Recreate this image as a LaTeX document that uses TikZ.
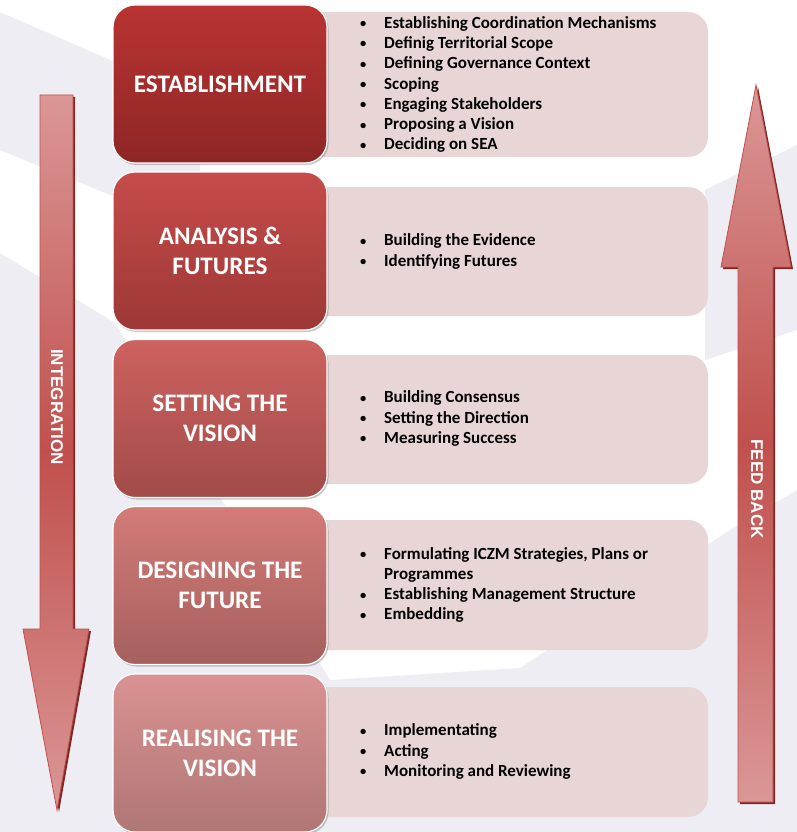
\documentclass[tikz,border=0pt]{standalone}
\usepackage{fontspec}
\setmainfont{Carlito}
\newfontfamily\arrowfont{Liberation Sans}
\usetikzlibrary{shadows}
\definecolor{bggray}{HTML}{EDEDF3}
\definecolor{pinkbox}{HTML}{E8D6D6}
\definecolor{arrowlight}{HTML}{DA9796}
\definecolor{arrowmid}{HTML}{C0504D}
\definecolor{arrowedge}{HTML}{C24F4C}
\definecolor{arrowshadow}{HTML}{7E2826}
\definecolor{pAt}{HTML}{B83432}
\definecolor{pAb}{HTML}{8E2626}
\definecolor{pBt}{HTML}{C64C4A}
\definecolor{pBb}{HTML}{9C3836}
\definecolor{pCt}{HTML}{CD625F}
\definecolor{pCb}{HTML}{A24B49}
\definecolor{pDt}{HTML}{D37B77}
\definecolor{pDb}{HTML}{A5605E}
\definecolor{pEt}{HTML}{D99291}
\definecolor{pEb}{HTML}{B07676}
\tikzset{
  phase/.style={rounded corners=22pt, minimum width=214pt, minimum height=158pt,
    draw=white, line width=1.2pt, align=center, text=white, inner sep=0pt,
    font=\fontsize{25.2}{30}\selectfont\bfseries,
    drop shadow={shadow xshift=1.5pt, shadow yshift=-2pt, opacity=0.3, fill=black!70}},
  content/.style={rounded corners=20pt, fill=pinkbox, minimum width=408pt, inner sep=0pt},
  listtext/.style={anchor=west, inner sep=0pt, align=left, text=black,
    font=\fontsize{17}{20.3}\selectfont\bfseries},
  bigarrow/.style={shading=axis, top color=arrowlight, bottom color=arrowlight,
    middle color=arrowmid, draw=arrowedge, line width=0.8pt},
  arrowshadowstyle/.style={fill=arrowshadow},
  arrowlabel/.style={text=white, font=\arrowfont\fontsize{17}{20}\selectfont\bfseries, inner sep=0pt, rotate=-90}
}
\newcommand{\itm}[1]{\makebox[26pt][l]{\hspace{2pt}\raisebox{0.6pt}{\fontsize{12.5}{12.5}\selectfont\textbullet}}#1}
\newcommand{\cnt}[1]{\makebox[26pt][l]{}#1}
\begin{document}
\begin{tikzpicture}[x=1pt,y=-1pt]
\useasboundingbox (0,0) rectangle (797,832);
\clip (0,0) rectangle (797,832);
% background
\fill[white] (0,0) rectangle (797,832);
\fill[bggray] (0,12) -- (115,62) -- (200,100) -- (200,235) -- (115,197) -- (0,150) -- cycle;
\fill[bggray] (705,190) -- (797,145) -- (797,330) -- (705,360) -- cycle;
\fill[bggray] (0,253) -- (115,323) -- (330,680) -- (520,668) -- (730,530) -- (797,490)
  -- (797,832) -- (0,832) -- cycle;

% content boxes
\node[content, minimum height=145pt] (c1) at (504,84.5) {};
\node[content, minimum height=129pt] (c2) at (504,251.5) {};
\node[content, minimum height=129pt] (c3) at (504,419.5) {};
\node[content, minimum height=130pt] (c4) at (504,585) {};
\node[content, minimum height=130pt] (c5) at (504,752) {};

% phase boxes
\node[phase, top color=pAt, bottom color=pAb] (p1) at (220,84) {ESTABLISHMENT};
\node[phase, top color=pBt, bottom color=pBb] (p2) at (220,251) {ANALYSIS \&\\FUTURES};
\node[phase, top color=pCt, bottom color=pCb] (p3) at (220,418.5) {SETTING THE\\VISION};
\node[phase, top color=pDt, bottom color=pDb] (p4) at (220,585.5) {DESIGNING THE\\FUTURE};
\node[phase, top color=pEt, bottom color=pEb] (p5) at (220,753) {REALISING THE\\VISION};

% lists
\node[listtext] (l1) at (358,84.5) {\itm{Establishing Coordination Mechanisms}\\\itm{Definig Territorial Scope}\\\itm{Defining Governance Context}\\\itm{Scoping}\\\itm{Engaging Stakeholders}\\\itm{Proposing a Vision}\\\itm{Deciding on SEA}};
\node[listtext] (l2) at (358,251.5) {\itm{Building the Evidence}\\\itm{Identifying Futures}};
\node[listtext] (l3) at (358,418.5) {\itm{Building Consensus}\\\itm{Setting the Direction}\\\itm{Measuring Success}};
\node[listtext] (l4) at (358,585) {\itm{Formulating ICZM Strategies, Plans or}\\\cnt{Programmes}\\\itm{Establishing Management Structure}\\\itm{Embedding}};
\node[listtext] (l5) at (358,751.5) {\itm{Implementating}\\\itm{Acting}\\\itm{Monitoring and Reviewing}};

% left arrow (integration)
\fill[arrowshadowstyle, xshift=2pt, yshift=-2pt] (40,95) -- (73,95) -- (73,629) -- (89,629) -- (57,810) -- (23,629) -- (40,629) -- cycle;
\path[bigarrow] (40,95) -- (73,95) -- (73,629) -- (89,629) -- (57,810) -- (23,629) -- (40,629) -- cycle;
\node[arrowlabel] (integ) at (57,407) {INTEGRATION};

% right arrow (feed back)
\fill[arrowshadowstyle, xshift=2pt, yshift=-2pt] (738,802) -- (773,802) -- (773,267) -- (791,267) -- (756,85) -- (721,267) -- (738,267) -- cycle;
\path[bigarrow] (738,802) -- (773,802) -- (773,267) -- (791,267) -- (756,85) -- (721,267) -- (738,267) -- cycle;
\node[arrowlabel] (feed) at (757,489) {FEED BACK};
\end{tikzpicture}
\end{document}
